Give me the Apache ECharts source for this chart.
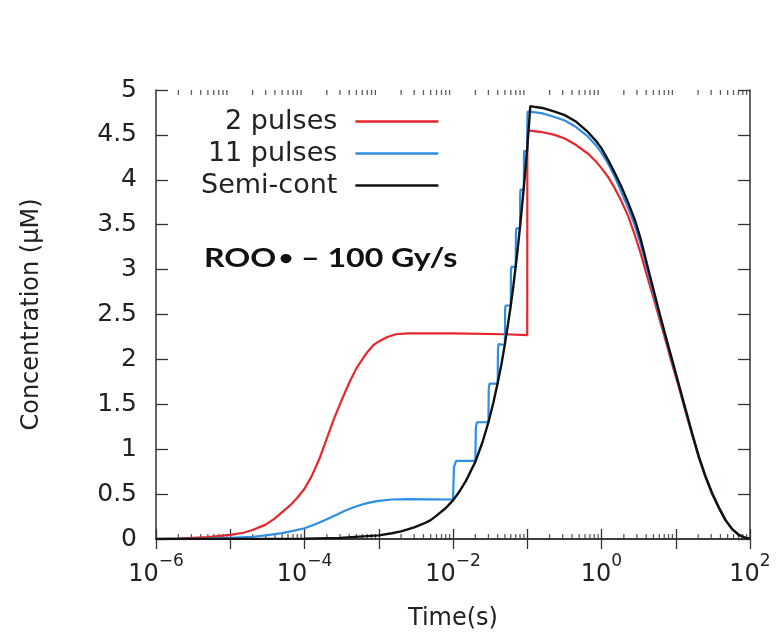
<!DOCTYPE html>
<html>
<head>
<meta charset="utf-8">
<title>ROO• – 100 Gy/s</title>
<script src="https://cdn.jsdelivr.net/npm/echarts@6/dist/echarts.min.js"></script>
<style>
    html, body { margin: 0; padding: 0; background: #fff; }
    #chart { width: 776px; height: 636px; }
</style>
</head>
<body>
<div id="chart"></div>
<script>
    // curves: [time (s), concentration (uM)]
    var twoPulses = [
        [1e-6, 0], [2e-6, 0.005], [5e-6, 0.02], [1e-5, 0.045], [1.5e-5, 0.07], [2e-5, 0.1],
        [3e-5, 0.16], [4e-5, 0.23], [5e-5, 0.3], [6.5e-5, 0.38], [8e-5, 0.46], [1e-4, 0.56],
        [1.25e-4, 0.7], [1.6e-4, 0.9], [2e-4, 1.12], [2.5e-4, 1.34], [3e-4, 1.5], [3.5e-4, 1.63],
        [4e-4, 1.74], [5e-4, 1.9], [6e-4, 2.0], [7e-4, 2.08], [8.5e-4, 2.16], [1e-3, 2.2],
        [1.3e-3, 2.25], [1.7e-3, 2.28], [2.5e-3, 2.29], [0.01, 2.29], [0.05, 2.28], [0.1, 2.27],
        [0.1003, 4.4], [0.101, 4.55], [0.13, 4.54], [0.16, 4.53], [0.234, 4.5], [0.32, 4.46],
        [0.45, 4.39], [0.66, 4.29], [0.85, 4.2], [1.0, 4.13], [1.23, 4.03], [1.5, 3.91],
        [1.86, 3.76], [2.3, 3.59], [2.82, 3.38], [3.4, 3.17], [4.07, 2.94], [5.0, 2.69],
        [5.89, 2.48], [7.24, 2.22], [8.91, 1.95], [11, 1.69], [13.5, 1.42], [16.6, 1.16],
        [20.4, 0.91], [25.1, 0.69], [30.9, 0.5], [38, 0.35], [46.8, 0.21], [57.5, 0.11],
        [70.8, 0.045], [85, 0.015], [100, 0.003]
    ];
    var elevenPulses = [
        [1e-6, 0], [5e-6, 0.005], [1e-5, 0.012], [2e-5, 0.025], [3e-5, 0.04], [5e-5, 0.065],
        [7e-5, 0.09], [1e-4, 0.12], [1.4e-4, 0.165], [2e-4, 0.22], [2.7e-4, 0.27], [3.5e-4, 0.315],
        [4.5e-4, 0.35], [6e-4, 0.385], [8e-4, 0.41], [1e-3, 0.425], [1.5e-3, 0.44], [2.5e-3, 0.445],
        [0.01, 0.44],
        [0.0103, 0.8], [0.011, 0.87], [0.02, 0.87], [0.0203, 1.24], [0.021, 1.3],
        [0.03, 1.3], [0.0303, 1.67], [0.031, 1.73], [0.04, 1.73], [0.0403, 2.1], [0.041, 2.17],
        [0.05, 2.16], [0.0503, 2.54], [0.051, 2.6], [0.06, 2.6], [0.0603, 2.97], [0.061, 3.03],
        [0.07, 3.03], [0.0703, 3.4], [0.071, 3.46], [0.08, 3.46], [0.0803, 3.83], [0.081, 3.89],
        [0.09, 3.89], [0.0903, 4.26], [0.091, 4.32], [0.1, 4.32], [0.1003, 4.7], [0.101, 4.76],
        [0.13, 4.75], [0.16, 4.74], [0.234, 4.7], [0.32, 4.66], [0.45, 4.59], [0.66, 4.48],
        [0.85, 4.38], [1.0, 4.3], [1.23, 4.18], [1.5, 4.04], [1.86, 3.86], [2.3, 3.68],
        [2.82, 3.49], [3.4, 3.27], [4.07, 3.02], [5.0, 2.74], [5.89, 2.52], [7.24, 2.25],
        [8.91, 1.98], [11, 1.71], [13.5, 1.44], [16.6, 1.17], [20.4, 0.915], [25.1, 0.7],
        [30.9, 0.51], [38, 0.35], [46.8, 0.21], [57.5, 0.11], [70.8, 0.045], [85, 0.015],
        [100, 0.003]
    ];
    var semiCont = [
        [1e-6, 0], [1e-4, 0.004], [3e-4, 0.013], [1e-3, 0.04], [1.5e-3, 0.064], [2e-3, 0.085],
        [3e-3, 0.13], [4e-3, 0.17], [5e-3, 0.21], [6e-3, 0.26], [8e-3, 0.345], [0.01, 0.43],
        [0.012, 0.52], [0.015, 0.65], [0.02, 0.86], [0.025, 1.08], [0.03, 1.3], [0.035, 1.52],
        [0.04, 1.74], [0.045, 1.95], [0.05, 2.17], [0.055, 2.39], [0.06, 2.6], [0.065, 2.82],
        [0.07, 3.04], [0.075, 3.26], [0.08, 3.48], [0.085, 3.7], [0.09, 3.92], [0.095, 4.14],
        [0.1, 4.36], [0.105, 4.59], [0.11, 4.82], [0.13, 4.81], [0.16, 4.8], [0.234, 4.76],
        [0.32, 4.72], [0.45, 4.65], [0.66, 4.53], [0.85, 4.43], [1.0, 4.35], [1.23, 4.22],
        [1.5, 4.08], [1.86, 3.92], [2.3, 3.74], [2.82, 3.55], [3.4, 3.33], [4.07, 3.07],
        [5.0, 2.78], [5.89, 2.55], [7.24, 2.27], [8.91, 2.0], [11, 1.72], [13.5, 1.45],
        [16.6, 1.18], [20.4, 0.92], [25.1, 0.7], [30.9, 0.51], [38, 0.35], [46.8, 0.21],
        [57.5, 0.11], [70.8, 0.045], [85, 0.015], [100, 0.003]
    ];
    var seriesNames = ['2 pulses', '11 pulses', 'Semi-cont'];
    var seriesColors = ['#e8262d', '#2e8fe4', '#111111'];

    // minor log ticks 2..9 in every decade (drawn as tiny marks on the frame)
    var minorTicks = [];
    for (var d = -6; d < 2; d++) {
        for (var m = 2; m < 10; m++) {
            minorTicks.push(+(m * Math.pow(10, d)).toPrecision(3));
        }
    }

    var font = 'DejaVu Sans';
    var axisColor = '#333';

    function expLabel(value) {
        var e = Math.round(Math.log10(value));
        if (e % 2 !== 0) return '';
        return '{b|10}{s|' + (e < 0 ? '\u2212' + (-e) : e) + '}';
    }

    var myChart = echarts.init(document.getElementById('chart'));
    myChart.setOption({
        animation: false,
        grid: { left: 156, right: 26, top: 90, bottom: 97 },
        legend: {
            data: seriesNames,
            orient: 'vertical',
            left: 196,
            top: 103,
            align: 'right',
            icon: 'rect',
            itemWidth: 83,
            itemHeight: 2.5,
            itemGap: 5,
            textStyle: {
                fontFamily: font,
                fontSize: 27,
                color: '#222',
                width: 152,
                align: 'right',
                padding: [0, 13, 0, 0]
            }
        },
        graphic: [{
            type: 'text',
            x: 204,
            y: 258,
            scaleX: 1.19,
            style: {
                text: '{a|ROO}{c|\u2022}{a| \u2013 100 Gy/s}',
                verticalAlign: 'middle',
                rich: {
                    a: { fontFamily: 'Lato', fontWeight: 'bold', fontSize: 27, fill: '#111' },
                    c: { fontFamily: 'Lato', fontWeight: 'bold', fontSize: 21, fill: '#111', padding: [0, 0, 0, 2] }
                }
            }
        }],
        xAxis: [{
            type: 'log',
            logBase: 10,
            min: 1e-6,
            max: 100,
            interval: 1,
            name: 'Time(s)',
            nameLocation: 'middle',
            nameGap: 68,
            nameTextStyle: { fontFamily: font, fontSize: 24, color: '#222' },
            axisLine: { lineStyle: { color: axisColor, width: 1.5 } },
            axisTick: { inside: true, length: 10, lineStyle: { color: axisColor, width: 1.3 } },
            splitLine: { show: false },
            axisLabel: {
                margin: 14,
                formatter: expLabel,
                rich: {
                    b: { fontFamily: font, fontSize: 24, color: '#222', lineHeight: 34, verticalAlign: 'bottom' },
                    s: { fontFamily: font, fontSize: 17, color: '#222', lineHeight: 16, verticalAlign: 'top' }
                }
            }
        }, {
            type: 'log',
            logBase: 10,
            position: 'top',
            min: 1e-6,
            max: 100,
            interval: 1,
            axisLine: { lineStyle: { color: axisColor, width: 1.5 } },
            axisTick: { inside: true, length: 10, lineStyle: { color: axisColor, width: 1.3 } },
            axisLabel: { show: false },
            splitLine: { show: false }
        }],
        yAxis: [{
            type: 'value',
            min: 0,
            max: 5,
            interval: 0.5,
            name: 'Concentration (\u03bcM)',
            nameLocation: 'middle',
            nameGap: 112,
            nameTextStyle: { fontFamily: font, fontSize: 24, color: '#222' },
            axisLine: { show: true, lineStyle: { color: axisColor, width: 1.5 } },
            axisTick: { show: true, inside: true, length: 12, lineStyle: { color: axisColor, width: 1.3 } },
            splitLine: { show: false },
            axisLabel: { fontFamily: font, fontSize: 25, color: '#222', margin: 19 }
        }, {
            type: 'value',
            position: 'right',
            min: 0,
            max: 5,
            interval: 0.5,
            axisLine: { show: true, lineStyle: { color: axisColor, width: 1.5 } },
            axisTick: { show: true, inside: true, length: 12, lineStyle: { color: axisColor, width: 1.3 } },
            axisLabel: { show: false },
            splitLine: { show: false }
        }],
        series: [{
            name: 'minor-bottom',
            type: 'scatter',
            silent: true,
            clip: false,
            symbol: 'rect',
            symbolSize: [1.3, 5],
            symbolOffset: [0, -2.5],
            itemStyle: { color: axisColor },
            data: minorTicks.map(function (v) { return [v, 0]; })
        }, {
            name: 'minor-top',
            type: 'scatter',
            silent: true,
            clip: false,
            symbol: 'rect',
            symbolSize: [1.3, 5],
            symbolOffset: [0, 2.5],
            itemStyle: { color: axisColor },
            data: minorTicks.map(function (v) { return [v, 5]; })
        }, {
            name: seriesNames[0],
            type: 'line',
            showSymbol: false,
            color: seriesColors[0],
            lineStyle: { width: 2.2 },
            data: twoPulses
        }, {
            name: seriesNames[1],
            type: 'line',
            showSymbol: false,
            color: seriesColors[1],
            lineStyle: { width: 2.2 },
            data: elevenPulses
        }, {
            name: seriesNames[2],
            type: 'line',
            showSymbol: false,
            color: seriesColors[2],
            lineStyle: { width: 2.4 },
            data: semiCont
        }]
    });
</script>
</body>
</html>
